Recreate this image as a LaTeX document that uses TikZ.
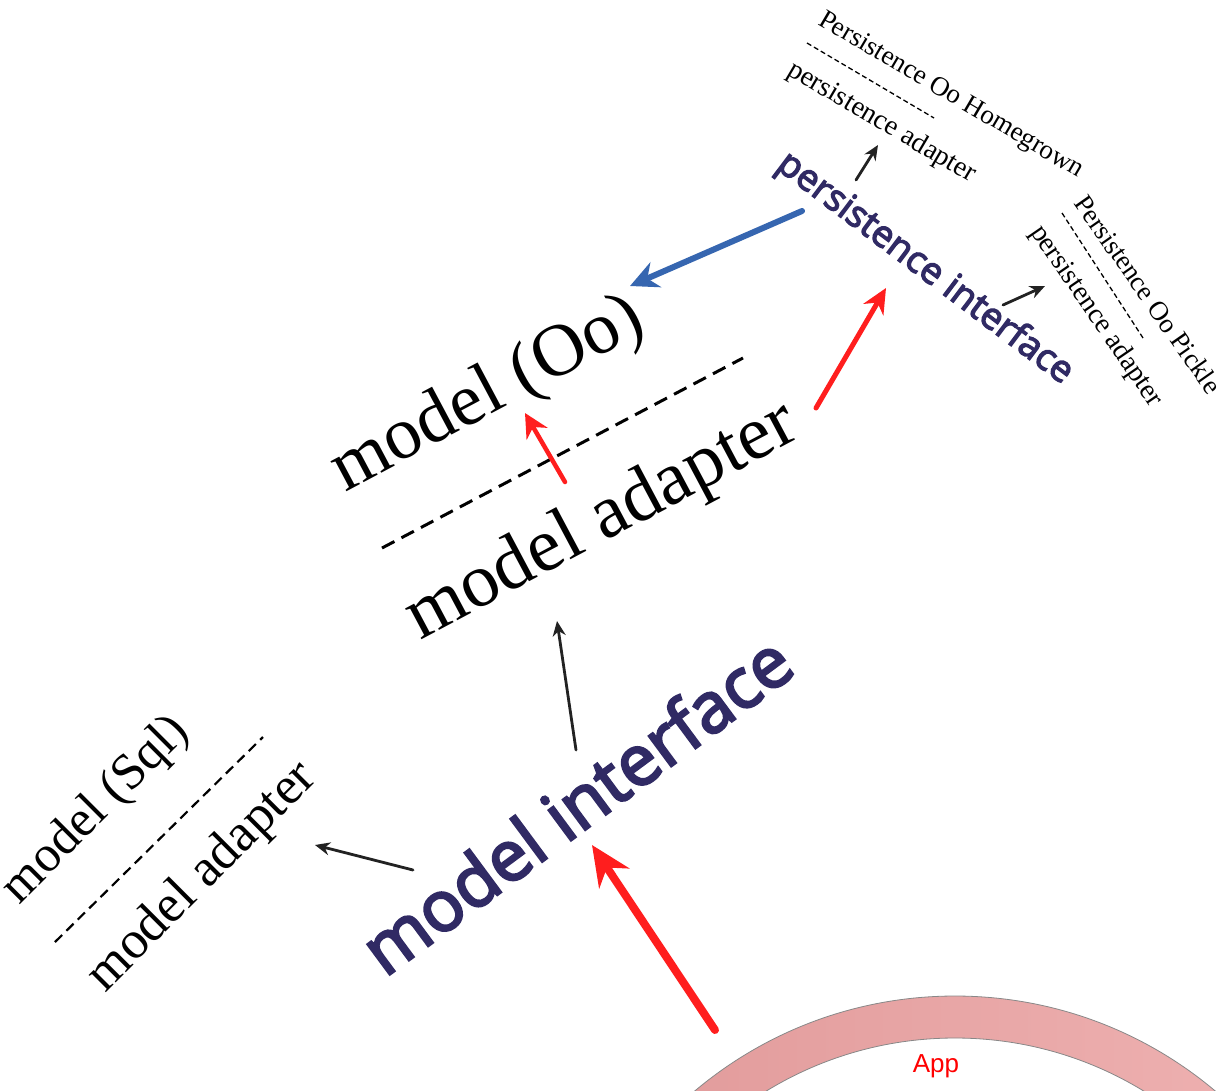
\documentclass[tikz,border=0pt]{standalone}
\usepackage{fontspec}
\setmainfont{Liberation Serif}
\newfontfamily\opensansfam[FakeBold=3.5]{Open Sans}
\newfontfamily\arialfam{Liberation Sans}
\usetikzlibrary{arrows.meta}

\begin{document}
\begin{tikzpicture}[x=1pt,y=-1pt,line cap=round,
	txt/.style={inner sep=0, outer sep=0, anchor=base west},
	sepline/.style={line cap=butt, dash pattern=#1}]
	\def\archfontA#1{\rmfamily{#1}} % serif labels
	\def\archfontB#1{\opensansfam{#1}} % interface labels
	\definecolor{custcol_30_2a_64}{RGB}{48, 42, 100}
	\definecolor{custcol_ff_1e_1e}{RGB}{255, 30, 30}
	\definecolor{custcol_36_66_b0}{RGB}{54, 102, 176}
	\definecolor{custcol_22_22_22}{RGB}{34, 34, 34}
	\definecolor{custcol_e0_98_98}{RGB}{224, 152, 152}
	\definecolor{custcol_f0_b4_b4}{RGB}{240, 180, 180}
	\definecolor{custcol_88_88_88}{RGB}{136, 136, 136}
	\definecolor{custcol_ff_0_0}{RGB}{255, 0, 0}
	\clip (0,0) rectangle (1228,1090);
	% App ring
	\shade [left color=custcol_e0_98_98, right color=custcol_f0_b4_b4, even odd rule] (955,1400) circle (404pt) (955,1400) circle (362pt);
	\draw [line width=0.8pt, custcol_88_88_88] (955,1400) circle (404pt);
	\draw [line width=0.8pt, custcol_88_88_88] (955,1400) circle (362pt);
	\arialfam{\fontsize{26pt}{26pt}\selectfont\node[inner sep=0, outer sep=0, custcol_ff_0_0, anchor=base] (app) at (936,1072) {App};}
	% model group
	\archfontB{\fontsize{70pt}{70pt}\selectfont\node[txt, custcol_30_2a_64, rotate=36.5] (mdlIfc) at (385,978) {model interface};}
	\archfontA{\fontsize{74pt}{74pt}\selectfont\node[txt, rotate=28] (mdlOo) at (345,492) {model (Oo)};}
	\archfontA{\fontsize{76pt}{76pt}\selectfont\node[txt, rotate=28] (mdlAdpOo) at (420,640) {model adapter};}
	\draw [line width=3.0pt, sepline={on 14pt off 8pt}] (382,548) -- (743,358);
	\archfontA{\fontsize{51pt}{51pt}\selectfont\node[txt, rotate=45] (mdlSql) at (19,905) {model (Sql)};}
	\archfontA{\fontsize{53pt}{53pt}\selectfont\node[txt, rotate=45] (mdlAdpSql) at (105,993) {model adapter};}
	\draw [line width=2.2pt, sepline={on 10pt off 6pt}] (55,942) -- (263,737);
	% persistence group
	\archfontB{\fontsize{37pt}{37pt}\selectfont\node[txt, custcol_30_2a_64, rotate=-37] (persIfc) at (775,168) {persistence interface};}
	\archfontA{\fontsize{27pt}{27pt}\selectfont\node[txt, rotate=-30.5] (persHome) at (817,24) {Persistence Oo Homegrown};}
	\archfontA{\fontsize{28pt}{28pt}\selectfont\node[txt, rotate=-30.5] (persAdpHome) at (786,74) {persistence adapter};}
	\draw [line width=1.3pt, sepline={on 5pt off 3pt}] (807,43) -- (934,118);
	\archfontA{\fontsize{27pt}{27pt}\selectfont\node[txt, rotate=-55] (persPick) at (1073,203) {Persistence Oo Pickle};}
	\archfontA{\fontsize{28pt}{28pt}\selectfont\node[txt, rotate=-55.5] (persAdpPick) at (1030,232) {persistence adapter};}
	\draw [line width=1.3pt, sepline={on 5pt off 3pt}] (1062,213) -- (1143,338);
	% arrow ends
	\coordinate (appOut) at (715,1030);
	\coordinate (ifcIn) at (592,845);
	\coordinate (ifcUp) at (576,750);
	\coordinate (adpOoIn) at (557,621);
	\coordinate (ifcLeft) at (413,870);
	\coordinate (adpSqlIn) at (315,845);
	\coordinate (adpOoOut) at (565,482);
	\coordinate (mdlOoIn) at (525,413);
	\coordinate (adpOoRight) at (816,408);
	\coordinate (persIfcIn) at (886,288);
	\coordinate (persOut) at (802,211);
	\coordinate (mdlOoRight) at (630,286);
	\coordinate (persUp) at (856,180);
	\coordinate (adpHomeIn) at (878,145);
	\coordinate (persRight) at (1003,305);
	\coordinate (adpPickIn) at (1045,286);
	\draw [line width=8.0pt, custcol_ff_1e_1e, -{Stealth[length=40pt,width=36pt]}] (appOut) -- (ifcIn);
	\draw [line width=2.8pt, custcol_22_22_22, -{Stealth[length=15pt,width=13pt]}] (ifcUp) -- (adpOoIn);
	\draw [line width=2.8pt, custcol_22_22_22, -{Stealth[length=15pt,width=13pt]}] (ifcLeft) -- (adpSqlIn);
	\draw [line width=4.5pt, custcol_ff_1e_1e, -{Stealth[length=24pt,width=24pt]}] (adpOoOut) -- (mdlOoIn);
	\draw [line width=5.0pt, custcol_ff_1e_1e, -{Stealth[length=25pt,width=23pt]}] (adpOoRight) -- (persIfcIn);
	\draw [line width=6.0pt, custcol_36_66_b0, -{Stealth[length=28pt,width=27pt]}] (persOut) -- (mdlOoRight);
	\draw [line width=2.8pt, custcol_22_22_22, -{Stealth[length=15pt,width=13pt]}] (persUp) -- (adpHomeIn);
	\draw [line width=2.8pt, custcol_22_22_22, -{Stealth[length=15pt,width=13pt]}] (persRight) -- (adpPickIn);
\end{tikzpicture}
\end{document}
